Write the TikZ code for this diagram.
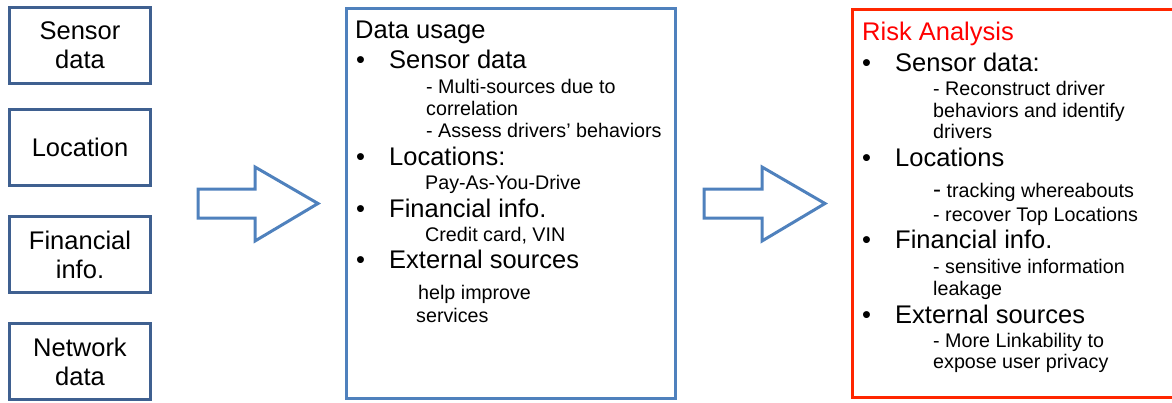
\documentclass[tikz,border=0pt]{standalone}
\usepackage{fontspec}
\setmainfont{Liberation Sans}
\definecolor{darkblue}{HTML}{3F6090}
\definecolor{midblue}{HTML}{4F81BD}
\definecolor{boxred}{HTML}{FF2600}
\definecolor{titlered}{HTML}{FF0000}
\newcommand{\bigtxt}{\fontsize{25.5}{29}\selectfont}
\newcommand{\smalltxt}{\fontsize{19.7}{22}\selectfont}
\tikzset{
  x=1pt, y=-1pt,
  srcbox/.style={draw=darkblue, line width=3pt, minimum width=141pt, minimum height=76pt,
    inner sep=0pt, align=center, font=\bigtxt},
  panel/.style={line width=3pt},
  blockarrow/.style={draw=midblue, fill=white, line width=3pt, line join=miter},
  big/.style={anchor=base west, inner sep=0pt, font=\bigtxt},
  small/.style={anchor=base west, inner sep=0pt, font=\smalltxt},
}
\begin{document}
\begin{tikzpicture}
\useasboundingbox (0,0) rectangle (1172,402);
% source boxes
\node[srcbox] (sensor) at (80,45) {Sensor\\data};
\node[srcbox] (loc) at (80,147) {Location};
\node[srcbox] (fin) at (80,254.5) {Financial\\info.};
\node[srcbox] (net) at (80,361.5) {Network\\data};
% block arrows
\draw[blockarrow] (198,189) -- (255,189) -- (255,167) -- (318,203.5) -- (255,241) -- (255,218) -- (198,218) -- cycle;
\draw[blockarrow] (704,189) -- (762,189) -- (762,167) -- (825,203.5) -- (762,241) -- (762,218) -- (704,218) -- cycle;
% middle panel
\draw[panel, draw=midblue] (346.5,8.5) rectangle (675.5,398.5);
\node[big] (mt) at (355,38) {Data usage};
\node[big] (mb1) at (356,68) {•};
\node[big] (m1) at (389,68) {Sensor data};
\node[small] (m2) at (426,93) {- Multi-sources due to};
\node[small] (m3) at (426,115) {correlation};
\node[small] (m4) at (426,137) {- Assess drivers’ behaviors};
\node[big] (mb2) at (356,165) {•};
\node[big] (m5) at (389,165) {Locations:};
\node[small] (m6) at (425,189) {Pay-As-You-Drive};
\node[big] (mb3) at (356,217) {•};
\node[big] (m7) at (389,217) {Financial info.};
\node[small] (m8) at (425,241) {Credit card, VIN};
\node[big] (mb4) at (356,268) {•};
\node[big] (m9) at (389,268) {External sources};
\node[small] (m10) at (418,299) {help improve};
\node[small] (m11) at (416,322) {services};
% right panel
\draw[panel, draw=boxred] (852.5,9.5) rectangle (1180,397.5);
\node[big, text=titlered] (rt) at (862,40.5) {Risk Analysis};
\node[big] (rb1) at (862,71) {•};
\node[big] (r1) at (895,71) {Sensor data:};
\node[small] (r2) at (933,95) {- Reconstruct driver};
\node[small] (r3) at (933,117) {behaviors and identify};
\node[small] (r4) at (933,138) {drivers};
\node[big] (rb2) at (862,166.5) {•};
\node[big] (r5) at (895,166.5) {Locations};
\node[small] (r6) at (933,197) {{\fontsize{24}{24}\selectfont -} tracking whereabouts};
\node[small] (r7) at (933,221) {- recover Top Locations};
\node[big] (rb3) at (862,248) {•};
\node[big] (r8) at (895,248) {Financial info.};
\node[small] (r9) at (933,273) {- sensitive information};
\node[small] (r10) at (933,295) {leakage};
\node[big] (rb4) at (862,323) {•};
\node[big] (r11) at (895,323) {External sources};
\node[small] (r12) at (933,347) {- More Linkability to};
\node[small] (r13) at (933,368) {expose user privacy};
\end{tikzpicture}
\end{document}
